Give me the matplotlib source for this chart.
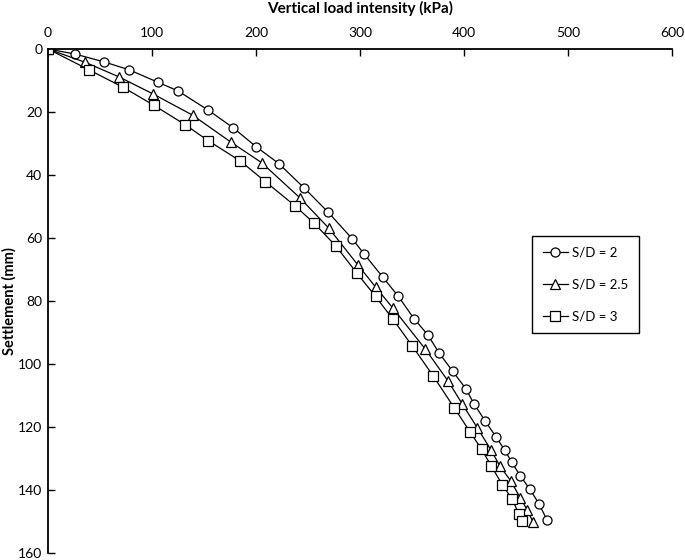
import matplotlib.pyplot as plt

plt.rcParams['font.family'] = ['Lato', 'DejaVu Sans']

# S/D = 2
carga_sd2 = [0, 26, 54, 78, 106, 125, 154, 178, 200, 222, 246.5, 269, 292.6, 304, 322,
             337, 352, 365, 376, 389, 402, 409.6, 420.5, 431, 439, 446, 454, 463.5, 472, 480]
asent_sd2 = [0, 1.6, 4.1, 6.6, 10.6, 13.3, 19.4, 25, 31, 36.4, 44.2, 51.7, 60.3, 65.1, 72.5,
             78.6, 85.7, 90.7, 96.5, 102.3, 108, 112.7, 118.2, 123.3, 127.3, 131.3, 135.5, 139.9, 144.4, 149.7]

# S/D = 2.5
carga_sd25 = [0, 35.6, 68.6, 100.6, 139, 176, 205.4, 242, 270, 298, 315, 331.4,
              363, 385, 398.4, 413, 426, 434.6, 445, 454, 461, 466.6]
asent_sd25 = [0, 4.2, 8.9, 14.2, 21, 29.6, 36.1, 47.2, 56.9, 68.6, 75.6, 82.2,
              95.4, 105.6, 112.8, 120.4, 127.4, 132.5, 137.2, 142.5, 146.5, 150.4]

# S/D = 3
carga_sd3 = [0, 39.4, 72.4, 102, 131.7, 154, 185, 209, 237.5, 255.8, 276.6, 296.8,
             315, 331.4, 350, 370.5, 390.7, 405.8, 417, 426, 437, 446.4, 452.6, 455.8]
asent_sd3 = [0, 6.6, 12.2, 17.9, 24, 29.1, 35.6, 42.1, 49.8, 55.3, 62.5, 71.1,
             78.6, 85.7, 94.2, 103.9, 114, 121.6, 127.2, 132.3, 138.5, 143, 147.6, 150]

fig = plt.figure(figsize=(6.85, 5.6), dpi=100)
ax = fig.add_axes([0.070, 0.013, 0.911, 0.8995])

estilo = dict(color='black', linewidth=0.9, markersize=6.5, markerfacecolor='white',
              markeredgecolor='black', markeredgewidth=0.9)
ax.plot(carga_sd2, asent_sd2, marker='o', label='S/D = 2', **estilo)
ax.plot(carga_sd25, asent_sd25, marker='^', label='S/D = 2.5', **estilo)
ax.plot(carga_sd3, asent_sd3, marker='s', label='S/D = 3', **estilo)

ax.set_xlim(0, 600)
ax.set_ylim(160, 0)
ax.xaxis.tick_top()
ax.xaxis.set_label_position('top')
ax.set_xticks(range(0, 601, 100))
ax.set_yticks(range(0, 161, 20))
ax.tick_params(direction='in', length=5, width=1, labelsize=10, pad=4)
ax.tick_params(axis='x', pad=7)
ax.spines['right'].set_visible(False)
ax.spines['bottom'].set_visible(False)
ax.spines['top'].set_linewidth(1.3)
ax.spines['left'].set_linewidth(1.3)

ax.set_xlabel('Vertical load intensity (kPa)', fontsize=11, fontweight='bold', labelpad=10)
ax.set_ylabel('Settlement (mm)', fontsize=10.5, fontweight='bold')
ax.yaxis.set_label_coords(-0.05, 0.5)

leg = ax.legend(loc='upper left', bbox_to_anchor=(0.776, 0.628), fontsize=9.5,
                frameon=True, fancybox=False, edgecolor='black', labelspacing=1.5,
                handlelength=1.9, borderpad=0.8, handletextpad=0.3, borderaxespad=0)
leg.get_frame().set_linewidth(1.0)
leg.get_frame().set_alpha(1)

plt.savefig('out.png', dpi=100)
